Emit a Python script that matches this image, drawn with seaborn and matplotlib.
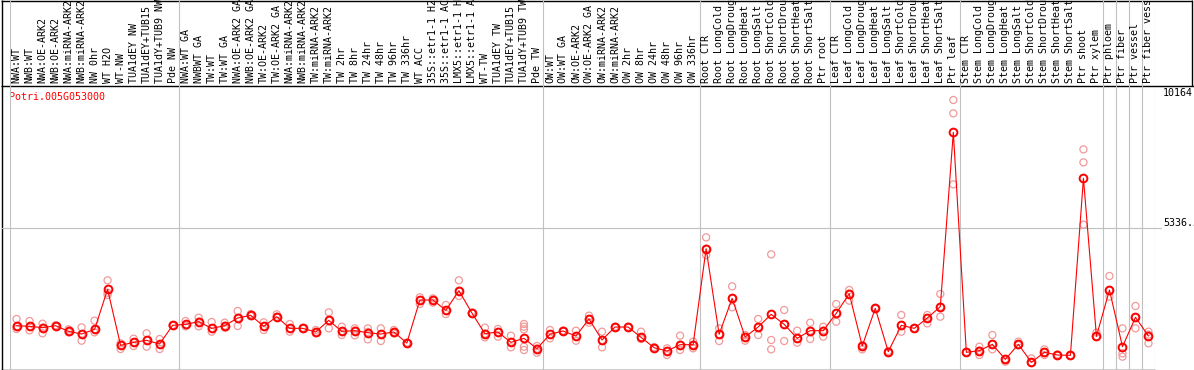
import numpy as np
import pandas as pd
import matplotlib
matplotlib.use('Agg')
import matplotlib.pyplot as plt
import matplotlib.transforms as mtransforms
import seaborn as sns

gene_name = 'Potri.005G053000'

sample_labels = [
    'NWA:WT', 'NWB:WT', 'NWA:OE-ARK2', 'NWB:OE-ARK2', 'NWA:miRNA-ARK2', 'NWB:miRNA-ARK2',
    'NW 0hr', 'WT H2O', 'WT-NW', 'TUA1dEY NW', 'TUA1dEY+TUB15', 'TUA1dY+TUB9 NW', 'Pde NW',
    'NWA:WT GA', 'NWBWT GA', 'TW:WT', 'TW:WT GA', 'NWA:OE-ARK2 GA', 'NWB:OE-ARK2 GA',
    'TW:OE-ARK2', 'TW:OE-ARK2 GA', 'NWA:miRNA-ARK2', 'NWB:miRNA-ARK2', 'TW:miRNA-ARK2',
    'TW:miRNA-ARK2', 'TW 2hr', 'TW 8hr', 'TW 24hr', 'TW 48hr', 'TW 96hr', 'TW 336hr', 'WT ACC',
    '35S::etr1-1 H2O', '35S::etr1-1 ACC', 'LMX5::etr1-1 H2O', 'LMX5::etr1-1 ACC', 'WT-TW',
    'TUA1dEY TW', 'TUA1dEY+TUB15', 'TUA1dY+TUB9 TW', 'Pde TW',
    'OW:WT', 'OW:WT GA', 'OW:OE-ARK2', 'OW:OE-ARK2 GA', 'OW:miRNA-ARK2', 'OW:miRNA-ARK2',
    'OW 2hr', 'OW 8hr', 'OW 24hr', 'OW 48hr', 'OW 96hr', 'OW 336hr',
    'Root CTR', 'Root LongCold', 'Root LongDrought', 'Root LongHeat', 'Root LongSalt',
    'Root ShortCold', 'Root ShortDrought', 'Root ShortHeat', 'Root ShortSalt', 'Ptr root',
    'Leaf CTR', 'Leaf LongCold', 'Leaf LongDrought', 'Leaf LongHeat', 'Leaf LongSalt',
    'Leaf ShortCold', 'Leaf ShortDrought', 'Leaf ShortHeat', 'Leaf ShortSalt', 'Ptr leaf',
    'Stem CTR', 'Stem LongCold', 'Stem LongDrought', 'Stem LongHeat', 'Stem LongSalt',
    'Stem ShortCold', 'Stem ShortDrought', 'Stem ShortHeat', 'Stem ShortSalt', 'Ptr shoot',
    'Ptr xylem', 'Ptr phloem', 'Ptr fiber', 'Ptr vessel', 'Ptr fiber vessel',
]

group_sizes = [13, 28, 12, 10, 10, 11, 1, 1, 1, 1]

mean_values = [
    1636, 1612, 1562, 1636, 1423, 1322, 1498, 3010, 894, 1007, 1083, 944, 1650,
    1688, 1788, 1536, 1636, 1927, 2028, 1612, 1977, 1536, 1536, 1398, 1838, 1423, 1448,
    1373, 1322, 1398, 982, 2607, 2607, 2217, 2960, 2116, 1335, 1398, 1007, 1159, 768,
    1310, 1436, 1247, 1889, 1096, 1587, 1587, 1196, 806, 680, 919, 919,
    4546, 1310, 2670, 1209, 1587, 2066, 1688, 1159, 1448, 1448,
    2103, 2846, 869, 2292, 655, 1650, 1536, 1927, 2355, 8942,
    630, 693, 932, 365, 932, 252, 630, 529, 516, 7204, 1234,
    2985, 844, 1952, 1247,
]

replicate_values = [
    [1889, 1511, 1600], [1813, 1461, 1600], [1713, 1348, 1562], [1637, 1620, 1650],
    [1499, 1385, 1423], [1574, 1070, 1322], [1826, 1385, 1499], [3350, 2796, 2880],
    [756, 970, 894], [1146, 869, 1007], [1348, 844, 1083], [1133, 756, 944],
    [1650, 1637, 1660],
    [1813, 1612, 1650], [1939, 1612, 1788], [1776, 1410, 1536], [1750, 1562, 1636],
    [2191, 1625, 1927], [2078, 2000, 2028], [1763, 1473, 1612], [2065, 1950, 1977],
    [1700, 1410, 1536], [1560, 1520, 1536], [1473, 1348, 1398], [2141, 1536, 1838],
    [1599, 1285, 1423], [1536, 1272, 1448], [1536, 1121, 1400], [1536, 1058, 1322],
    [1473, 1348, 1398], [982, 970, 995], [2708, 2456, 2607], [2670, 2506, 2607],
    [2418, 2078, 2217], [3350, 2758, 2960], [2116, 2100, 2130], [1562, 1196, 1335],
    [1511, 1222, 1398], [1259, 819, 1007], [1700, 1599, 1499, 844, 718], [869, 617, 768],
    [1473, 1159, 1310], [1436, 1420, 1450], [1448, 1070, 1247], [2015, 1750, 1889],
    [1410, 819, 1096], [1587, 1570, 1600], [1587, 1570, 1600], [1410, 1133, 1196],
    [806, 780, 830], [781, 529, 680], [1259, 718, 919], [1033, 781, 919],
    [4974, 4307, 4546], [1536, 1058, 1310], [3123, 2330, 2670], [1285, 1070, 1209],
    [1889, 1285, 1587], [4332, 1096, 743], [2229, 1058, 1688], [1448, 995, 1159],
    [1750, 1133, 1448], [1599, 1222, 1448],
    [2456, 1788, 2103], [2985, 2582, 2846], [743, 869, 900], [2292, 2270, 2310],
    [655, 630, 680], [2040, 1410, 1650], [1536, 1520, 1550], [2040, 1725, 1927],
    [2834, 1977, 2355], [10164, 9659, 6977],
    [630, 610, 650], [844, 529, 693], [1285, 743, 932], [277, 365, 380], [1033, 932, 900],
    [403, 252, 240], [743, 529, 630], [529, 510, 550], [516, 500, 530],
    [8299, 7808, 5453], [1373, 1234, 1210],
    [3514, 2733, 2985], [1536, 592, 466], [2380, 1536, 1952], [1410, 970, 1300],
]

y_tick_values = [10164, 5336.5, 0]
y_tick_labels = ['10164', '5336.5', '0']

# ---- figure setup (pixel layout of the original) ----
W, H = 1194, 370
sns.set_style('white')
plt.rcParams['font.family'] = ['DejaVu Sans Mono']
fig = plt.figure(figsize=(W / 100, H / 100), dpi=100)

grey = '#c0c0c0'
pink = '#f09a9a'
fs = 7.2

# background axes in pixel coordinates for the frame
frame = fig.add_axes([0, 0, 1, 1])
frame.set_xlim(0, W)
frame.set_ylim(H, 0)
frame.axis('off')

n = len(sample_labels)
left_px, right_px = 10, 1155
zero_px, top_val_px = 369, 100
scale = max(max(r) for r in replicate_values) / (zero_px - top_val_px)

ax = fig.add_axes([left_px / W, 0, (right_px - left_px) / W, 1])
ax.patch.set_alpha(0)
ax.set_xlim(-0.5, n - 0.5)
ax.set_ylim((zero_px - H) * scale, zero_px * scale)
for s in ax.spines.values():
    s.set_visible(False)
ax.set_xticks([])
ax.set_yticks([])
ax.set_xlabel('')
ax.set_ylabel('')

# group separators
bounds = np.concatenate([[0], np.cumsum(group_sizes)]) - 0.5
for b in bounds:
    ax.axvline(b, color=grey, lw=0.8, zorder=1)
ax.axhline(y_tick_values[1], xmin=(2 - left_px) / (right_px - left_px),
           xmax=(1161 - left_px) / (right_px - left_px), color=grey, lw=0.8,
           clip_on=False, zorder=1)

# frame lines
k = dict(color='black', lw=1.0, solid_capstyle='butt')
frame.plot([1.5, 1.5], [0, 369.5], **k)
frame.plot([1, 1155], [369.5, 369.5], **k)
frame.plot([1, W], [85.5, 85.5], **k)
frame.plot([1191.5, 1191.5], [0, 85.5], **k)
frame.plot([1, 1192], [0.5, 0.5], **k)

# data
pos = np.arange(n)
rep_df = pd.DataFrame(
    [(i, v) for i, reps in enumerate(replicate_values) for v in reps],
    columns=['pos', 'value'])
mean_df = pd.DataFrame({'pos': pos, 'value': mean_values})

sns.scatterplot(data=rep_df, x='pos', y='value', ax=ax, marker='o', s=26,
                facecolors='none', edgecolors=pink, linewidth=0.9, legend=False, zorder=2)
sns.lineplot(data=mean_df, x='pos', y='value', ax=ax, color='red', lw=0.8,
             marker='o', markersize=5.6, markerfacecolor='none',
             markeredgecolor='red', markeredgewidth=1.4, zorder=3)
ax.set_xlabel('')
ax.set_ylabel('')

# sample labels on top
lab_tr = mtransforms.blended_transform_factory(ax.transData, ax.transAxes)
for i, lab in enumerate(sample_labels):
    ax.text(i, (H - 83) / H, lab, rotation=90, ha='center', va='bottom',
            fontsize=fs, color='black', transform=lab_tr, clip_on=False)

# value labels on the right
tick_tr = mtransforms.blended_transform_factory(ax.transAxes, ax.transData)
offsets = [-7.5, -4.7, 7.0]
for v, lab, off in zip(y_tick_values, y_tick_labels, offsets):
    tr = mtransforms.offset_copy(tick_tr, fig=fig, y=-off * 0.72, units='points')
    ax.text((1163 - left_px) / (right_px - left_px), v, lab, ha='left', va='center',
            fontsize=fs, color='black', transform=tr, clip_on=False)

frame.text(9, 97, gene_name, color='red', ha='left', va='center', fontsize=fs)

fig.savefig('out.png', dpi=100)
